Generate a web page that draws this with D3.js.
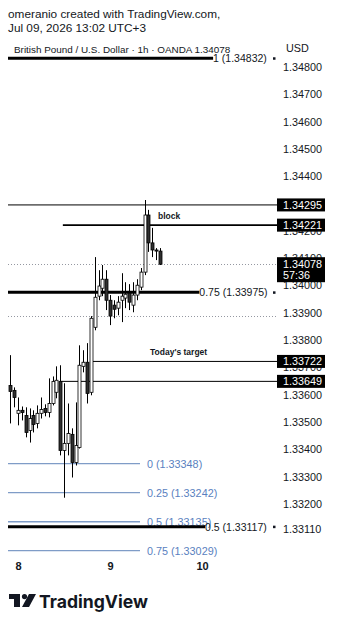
<!DOCTYPE html>
<html>
<head>
<meta charset="utf-8">
<script src="https://cdn.jsdelivr.net/npm/d3@7"></script>
<style>
    body { margin: 0; background: #fff; }
    svg { display: block; font-family: "Liberation Sans", Arial, sans-serif; }
</style>
</head>
<body>
<div id="chart-area"></div>
<script>
/// hourly candles, hour offset from Jul 9 00:00
var hours = [-26, -25, -24, -23, -22, -21, -20, -19, -18, -17, -16, -15, -14, -13, -12, -11, -10, -9, -8, -7,
    -6, -5, -4, -3, -2, -1, 0, 1, 2, 3, 4, 5, 6, 7, 8, 9, 10, 11, 12, 13];
var opens = [1.33634, 1.33616, 1.33532, 1.33543, 1.33524, 1.33469, 1.33524, 1.33495, 1.33532, 1.33550,
    1.33535, 1.33568, 1.33609, 1.33649, 1.33396, 1.33422, 1.33455, 1.33352, 1.33407, 1.33704,
    1.33719, 1.33609, 1.33847, 1.33961, 1.33990, 1.34023, 1.33946, 1.33928, 1.33917, 1.33946,
    1.33954, 1.33972, 1.33928, 1.33965, 1.33994, 1.34049, 1.34258, 1.34156, 1.34130, 1.34126];
var highs = [1.33745, 1.33627, 1.33590, 1.33557, 1.33554, 1.33550, 1.33543, 1.33561, 1.33590, 1.33565,
    1.33660, 1.33667, 1.33704, 1.33708, 1.33642, 1.33568, 1.33477, 1.33572, 1.33781, 1.33763,
    1.33789, 1.33888, 1.34104, 1.34056, 1.34075, 1.34056, 1.33965, 1.33946, 1.33961, 1.34045,
    1.34012, 1.34005, 1.34012, 1.34023, 1.34064, 1.34313, 1.34277, 1.34211, 1.34137, 1.34137];
var lows = [1.33495, 1.33554, 1.33488, 1.33506, 1.33444, 1.33425, 1.33462, 1.33477, 1.33513, 1.33521,
    1.33517, 1.33561, 1.33587, 1.33378, 1.33223, 1.33378, 1.33297, 1.33341, 1.33403, 1.33682,
    1.33568, 1.33598, 1.33836, 1.33946, 1.33961, 1.33910, 1.33855, 1.33880, 1.33891, 1.33866,
    1.33917, 1.33910, 1.33902, 1.33946, 1.33983, 1.34038, 1.34123, 1.34104, 1.34093, 1.34075];
var closes = [1.33612, 1.33590, 1.33543, 1.33535, 1.33462, 1.33513, 1.33491, 1.33532, 1.33546, 1.33535,
    1.33568, 1.33649, 1.33653, 1.33396, 1.33422, 1.33458, 1.33352, 1.33414, 1.33708, 1.33719,
    1.33605, 1.33880, 1.33957, 1.33998, 1.34023, 1.33946, 1.33888, 1.33913, 1.33939, 1.33961,
    1.33968, 1.33939, 1.33965, 1.34001, 1.34049, 1.34258, 1.34156, 1.34130, 1.34126, 1.34078];

var priceTicks = [1.348, 1.347, 1.346, 1.345, 1.344, 1.343, 1.342, 1.341, 1.340, 1.339, 1.338, 1.337,
    1.336, 1.335, 1.334, 1.333, 1.332, 1.3311];
var dayTicks = [-24, 0, 24];
var dayLabels = ["8", "9", "10"];

/// fib levels (blue set and black set)
var blueFibLevels = ["0", "0.25", "0.5", "0.75"];
var blueFibPrices = [1.33348, 1.33242, 1.33135, 1.33029];
var blackFibLevels = ["1", "0.75", "0.5"];
var blackFibPrices = [1.34832, 1.33975, 1.33117];
var blackFibEnds = [26.9, 23.3, 24.8];

/// horizontal levels drawn on chart
var levelPrices = [1.34295, 1.34221, 1.33722, 1.33649];
var levelStarts = [-27, -12.3, -4.5, -13];
var levelWidths = [1, 1.6, 1, 1];
var levelNotes = ["", "block", "Today's target", ""];
var lastPrice = 1.34078;
var countdown = "57:36";
var dottedPrices = [1.34078, 1.33888];

var W = 338, H = 625;
var plotLeft = 8, plotRight = 277;

var svg = d3.select("#chart-area")
    .append("svg")
    .attr("width", W)
    .attr("height", H);

var x = d3.scaleLinear()
    .domain([-24, 24])
    .range([18, 202]);

var y = d3.scaleLinear()
    .domain([1.348, 1.332])
    .range([67, 504]);

/// header
svg.append("text").attr("x", 8).attr("y", 18).attr("font-size", "11.8px").attr("fill", "#131722")
    .text("omeranio created with TradingView.com,");
svg.append("text").attr("x", 8).attr("y", 32).attr("font-size", "11.8px").attr("fill", "#131722")
    .text("Jul 09, 2026 13:02 UTC+3");
svg.append("text").attr("x", 14).attr("y", 53).attr("font-size", "9.9px").attr("fill", "#131722")
    .text("British Pound / U.S. Dollar \u00b7 1h \u00b7 OANDA  1.34078");
svg.append("text").attr("x", 286).attr("y", 52).attr("font-size", "10.8px").attr("fill", "#131722")
    .text("USD");

/// price axis ticks
var yAxisCall = d3.axisRight(y)
    .tickValues(priceTicks)
    .tickSize(0)
    .tickPadding(0)
    .tickFormat(d3.format(".5f"));
var yAxis = svg.append("g")
    .attr("class", "y-axis")
    .attr("transform", "translate(283, 0)")
    .call(yAxisCall);
yAxis.select(".domain").remove();
yAxis.selectAll("text")
    .attr("font-size", "10.8px")
    .attr("font-family", "Liberation Sans, Arial, sans-serif")
    .attr("fill", "#131722");

/// day axis
var xAxisCall = d3.axisBottom(x)
    .tickValues(dayTicks)
    .tickSize(0)
    .tickFormat(function (d, i) { return dayLabels[i]; });
var xAxis = svg.append("g")
    .attr("class", "x-axis")
    .attr("transform", "translate(0, 559)")
    .call(xAxisCall);
xAxis.select(".domain").remove();
xAxis.selectAll("text")
    .attr("font-size", "11px")
    .attr("font-weight", "bold")
    .attr("font-family", "Liberation Sans, Arial, sans-serif")
    .attr("fill", "#131722");

/// dotted lines
svg.selectAll("line.dotted")
    .data(dottedPrices)
    .enter()
    .append("line")
    .attr("class", "dotted")
    .attr("x1", plotLeft).attr("x2", plotRight)
    .attr("y1", function (d) { return Math.round(y(d)) + 0.5; })
    .attr("y2", function (d) { return Math.round(y(d)) + 0.5; })
    .attr("stroke", "#9598a1")
    .attr("stroke-width", 1)
    .attr("stroke-dasharray", "1,2");

/// blue fib
var blue = svg.append("g");
blueFibPrices.forEach(function (p, i) {
    blue.append("line")
        .attr("x1", plotLeft).attr("x2", 140)
        .attr("y1", y(p)).attr("y2", y(p))
        .attr("stroke", "#7f9cc7")
        .attr("stroke-width", 1.3);
    blue.append("text")
        .attr("x", 147).attr("y", y(p) + 4)
        .attr("font-size", "10.8px")
        .attr("fill", "#5a7fc0")
        .text(blueFibLevels[i] + " (" + p.toFixed(5) + ")");
});

/// black fib
var blk = svg.append("g");
blackFibPrices.forEach(function (p, i) {
    var xe = x(blackFibEnds[i]);
    blk.append("line")
        .attr("x1", plotLeft).attr("x2", xe)
        .attr("y1", y(p)).attr("y2", y(p))
        .attr("stroke", "#000")
        .attr("stroke-width", 3);
    blk.append("text")
        .attr("x", xe).attr("y", y(p) + 4)
        .attr("font-size", "10.5px")
        .attr("fill", "#131722")
        .text(blackFibLevels[i] + " (" + p.toFixed(5) + ")");
    blk.append("rect")
        .attr("x", 273).attr("y", y(p) - 1)
        .attr("width", 2.5).attr("height", 2.5)
        .attr("fill", "#131722");
});

/// horizontal levels
levelPrices.forEach(function (p, i) {
    svg.append("line")
        .attr("x1", Math.max(plotLeft, x(levelStarts[i]))).attr("x2", plotRight)
        .attr("y1", y(p)).attr("y2", y(p))
        .attr("stroke", "#000")
        .attr("stroke-width", levelWidths[i]);
    if (levelNotes[i]) {
        svg.append("text")
            .attr("x", i == 1 ? 158 : 150)
            .attr("y", y(p) - 6)
            .attr("font-size", "8.5px")
            .attr("font-weight", "bold")
            .attr("fill", "#131722")
            .text(levelNotes[i]);
    }
});

/// candles
var candles = hours.map(function (h, i) {
    return { h: h, o: opens[i], hi: highs[i], lo: lows[i], c: closes[i] };
});
var cg = svg.append("g").attr("class", "candles");
cg.selectAll("line")
    .data(candles)
    .enter()
    .append("line")
    .attr("x1", function (d) { return Math.round(x(d.h)) + 0.5; })
    .attr("x2", function (d) { return Math.round(x(d.h)) + 0.5; })
    .attr("y1", function (d) { return y(d.hi); })
    .attr("y2", function (d) { return y(d.lo); })
    .attr("stroke", "#000")
    .attr("stroke-width", 1);
cg.selectAll("rect")
    .data(candles)
    .enter()
    .append("rect")
    .attr("x", function (d) { return Math.round(x(d.h)) - 1; })
    .attr("y", function (d) { return y(Math.max(d.o, d.c)); })
    .attr("width", 3)
    .attr("height", function (d) { return Math.max(1, Math.abs(y(d.o) - y(d.c))); })
    .attr("fill", function (d) { return d.c >= d.o ? "#fff" : "#2f2f2f"; })
    .attr("stroke", "#000")
    .attr("stroke-width", 0.8);

/// price labels on the axis
var tags = svg.append("g");
levelPrices.forEach(function (p) {
    tags.append("rect")
        .attr("x", 277).attr("y", y(p) - 6.5)
        .attr("width", 48).attr("height", 13)
        .attr("fill", "#000");
    tags.append("text")
        .attr("x", 283).attr("y", y(p) + 4)
        .attr("font-size", "10.8px")
        .attr("fill", "#fff")
        .text(p.toFixed(5));
});
tags.append("rect")
    .attr("x", 277).attr("y", y(lastPrice) - 7)
    .attr("width", 48).attr("height", 25)
    .attr("fill", "#000");
tags.append("text")
    .attr("x", 283).attr("y", y(lastPrice) + 4)
    .attr("font-size", "10.8px").attr("fill", "#fff")
    .text(lastPrice.toFixed(5));
tags.append("text")
    .attr("x", 283).attr("y", y(lastPrice) + 15)
    .attr("font-size", "10.8px").attr("fill", "#fff")
    .text(countdown);

/// logo
var logo = svg.append("g").attr("transform", "translate(9, 594)").attr("fill", "#131722");
logo.append("path").attr("d", "M0,0 H11 V13 H5 V5 H0 Z");
logo.append("circle").attr("cx", 15.5).attr("cy", 2.6).attr("r", 2.6);
logo.append("path").attr("d", "M20,0 H27 L20,13 H13 Z");
svg.append("text")
    .attr("x", 39).attr("y", 608)
    .attr("font-size", "17.6px")
    .attr("font-weight", "bold")
    .attr("font-family", "Inter, Roboto, sans-serif")
    .attr("fill", "#131722")
    .text("TradingView");
</script>
</body>
</html>
